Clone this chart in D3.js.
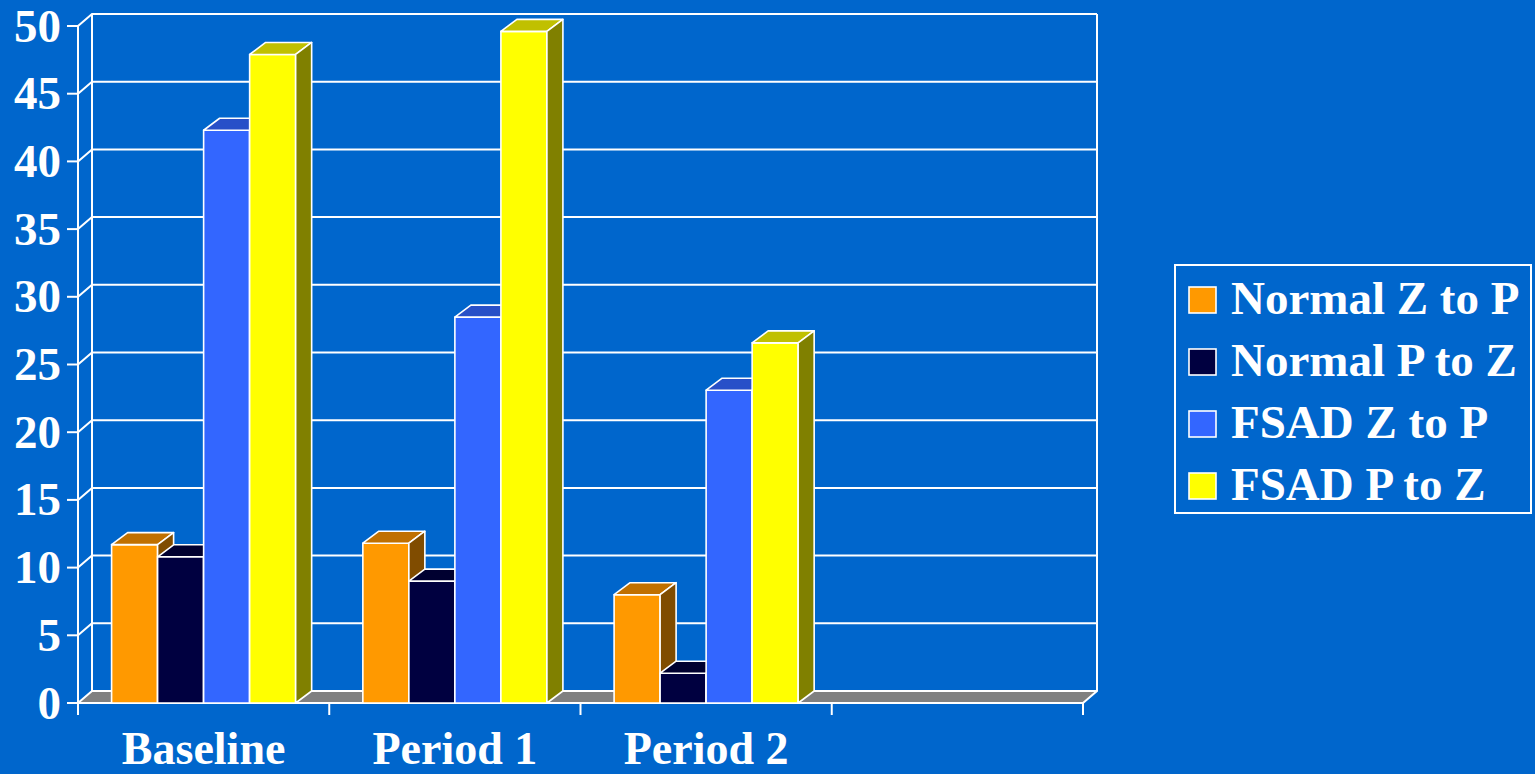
<!DOCTYPE html>
<html>
<head>
<meta charset="utf-8">
<script src="https://cdn.jsdelivr.net/npm/d3@7"></script>
<style>
  html, body { margin: 0; padding: 0; background: #0066CC; overflow: hidden; }
  svg { display: block; }
  text { font-family: "Liberation Serif", "Times New Roman", serif; font-weight: bold; fill: #fff; }
</style>
</head>
<body>
<svg id="chart" width="1535" height="774"></svg>
<script>
// ---- data ----
const categories = ["Baseline", "Period 1", "Period 2", ""];
const seriesNames = ["Normal Z to P", "Normal P to Z", "FSAD Z to P", "FSAD P to Z"];
const normalZtoP = [11.7, 11.8, 8.0];
const normalPtoZ = [10.8, 9.0, 2.2];
const fsadZtoP   = [42.3, 28.5, 23.1];
const fsadPtoZ   = [47.9, 49.6, 26.6];
const yTicks = [0, 5, 10, 15, 20, 25, 30, 35, 40, 45, 50];

const seriesValues = [normalZtoP, normalPtoZ, fsadZtoP, fsadPtoZ];
const faceColors = ["#FF9900", "#000040", "#3366FF", "#FFFF00"];
const topColors  = ["#C07000", "#000030", "#2850C8", "#C0C000"];
const sideColors = ["#804C00", "#000020", "#1A3380", "#808000"];

// ---- layout ----
const svg = d3.select("#chart");
const W = 1535, H = 774;
svg.append("rect").attr("width", W).attr("height", H).attr("fill", "#0066CC");

const left = 78, right = 1083;
const y = d3.scaleLinear().domain([0, 50]).range([703, 26]);
const x0 = d3.scaleBand().domain(categories).range([left, right]).padding(0);
const x1 = d3.scaleBand().domain(seriesNames).range([0, x0.bandwidth()]).paddingInner(0).paddingOuter(0.73);

const wdx = 14, wdy = -12;   // wall depth offset
const bdx = 16, bdy = -12;   // bar depth offset

const g = svg.append("g");
const line = (pts) => "M" + pts.map(p => p.join(",")).join("L") + "Z";
const pline = (pts) => "M" + pts.map(p => p.join(",")).join("L");

// back wall grid lines
g.selectAll(".grid").data(yTicks.filter(t => t > 0)).enter().append("path")
  .attr("d", t => pline([[left, y(t)], [left + wdx, y(t) + wdy], [right + wdx, y(t) + wdy]]))
  .attr("fill", "none").attr("stroke", "#fff").attr("stroke-width", 2);

// back wall verticals
g.append("path").attr("d", pline([[left + wdx, y(0) + wdy], [left + wdx, y(50) + wdy]]))
  .attr("stroke", "#fff").attr("stroke-width", 2).attr("fill", "none");
g.append("path").attr("d", pline([[right + wdx, y(0) + wdy], [right + wdx, y(50) + wdy]]))
  .attr("stroke", "#fff").attr("stroke-width", 2).attr("fill", "none");

// floor
g.append("path")
  .attr("d", line([[left, y(0)], [right, y(0)], [right + wdx, y(0) + wdy], [left + wdx, y(0) + wdy]]))
  .attr("fill", "#808080").attr("stroke", "#fff").attr("stroke-width", 2).attr("stroke-linejoin", "round");

// y axis line & ticks
g.append("path").attr("d", pline([[left, y(50)], [left, y(0) + 12]]))
  .attr("stroke", "#fff").attr("stroke-width", 2).attr("fill", "none");
g.selectAll(".ytick").data(yTicks).enter().append("path")
  .attr("d", t => pline([[left - 11, y(t)], [left, y(t)]]))
  .attr("stroke", "#fff").attr("stroke-width", 2);
g.selectAll(".ylab").data(yTicks).enter().append("text")
  .attr("x", 61).attr("y", t => y(t)).attr("dy", "0.33em")
  .attr("text-anchor", "end").attr("font-size", 47).text(t => t);

// x ticks
const xTickPos = categories.map(c => x0(c)).concat([right]);
g.selectAll(".xtick").data(xTickPos).enter().append("path")
  .attr("d", xp => pline([[xp, y(0)], [xp, y(0) + 12]]))
  .attr("stroke", "#fff").attr("stroke-width", 2);
g.selectAll(".xlab").data(categories).enter().append("text")
  .attr("x", c => x0(c) + x0.bandwidth() / 2).attr("y", 764)
  .attr("text-anchor", "middle").attr("font-size", 46).text(c => c);

// bars
categories.forEach((cat, ci) => {
  seriesNames.forEach((s, si) => {
    const v = seriesValues[si][ci];
    if (v === undefined) return;
    const xl = x0(cat) + x1(s), xr = xl + x1.bandwidth();
    const yt = y(v), yb = y(0);
    const bar = g.append("g");
    bar.append("path").attr("d", line([[xl, yb], [xl, yt], [xr, yt], [xr, yb]]))
      .attr("fill", faceColors[si]).attr("stroke", "#fff").attr("stroke-width", 1.6).attr("stroke-linejoin", "round");
    bar.append("path").attr("d", line([[xl, yt], [xl + bdx, yt + bdy], [xr + bdx, yt + bdy], [xr, yt]]))
      .attr("fill", topColors[si]).attr("stroke", "#fff").attr("stroke-width", 1.6).attr("stroke-linejoin", "round");
    bar.append("path").attr("d", line([[xr, yt], [xr + bdx, yt + bdy], [xr + bdx, yb + bdy], [xr, yb]]))
      .attr("fill", sideColors[si]).attr("stroke", "#fff").attr("stroke-width", 1.6).attr("stroke-linejoin", "round");
  });
});

// legend
const lg = svg.append("g");
lg.append("rect").attr("x", 1175).attr("y", 265).attr("width", 356).attr("height", 248)
  .attr("fill", "none").attr("stroke", "#fff").attr("stroke-width", 2);
seriesNames.forEach((s, i) => {
  lg.append("rect").attr("x", 1189).attr("y", 287 + i * 62).attr("width", 27).attr("height", 26)
    .attr("fill", faceColors[i]).attr("stroke", "#fff").attr("stroke-width", 1.6);
  lg.append("text").attr("x", 1231).attr("y", 314 + i * 62).attr("font-size", 47).text(s);
});
</script>
</body>
</html>
